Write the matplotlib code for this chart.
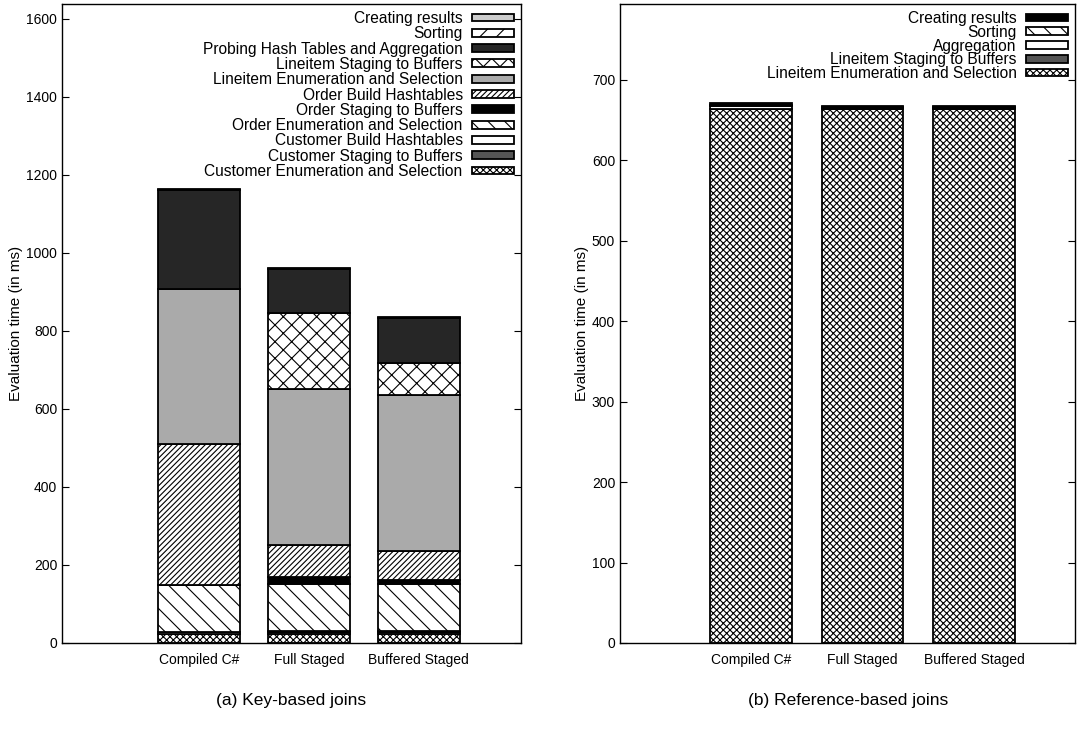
import matplotlib
matplotlib.use("Agg")
import matplotlib.pyplot as plt
import numpy as np

plt.rcParams['font.family'] = ['Liberation Sans', 'DejaVu Sans']
plt.rcParams['hatch.linewidth'] = 0.8

systems = ["Compiled C#", "Full Staged", "Buffered Staged"]

# (a) key-based joins, stacked bottom -> top
key_parts = [
    "Customer Enumeration and Selection",
    "Customer Staging to Buffers",
    "Customer Build Hashtables",
    "Order Enumeration and Selection",
    "Order Staging to Buffers",
    "Order Build Hashtables",
    "Lineitem Enumeration and Selection",
    "Lineitem Staging to Buffers",
    "Probing Hash Tables and Aggregation",
    "Sorting",
    "Creating results",
]
key_values = [
    [22, 22, 22],
    [0, 5, 5],
    [6, 5, 5],
    [120, 118, 118],
    [0, 20, 12],
    [362, 82, 75],
    [398, 398, 398],
    [0, 195, 83],
    [252, 113, 115],
    [0, 0, 0],
    [3, 3, 3],
]
key_colors = ["white", "#555555", "white", "white", "black", "white",
              "#aaaaaa", "white", "#262626", "white", "#cccccc"]
key_hatches = ["xxxxx", None, None, "\\\\", None, "//////",
               None, "xx", None, "//", None]

# (b) reference-based joins
ref_parts = [
    "Lineitem Enumeration and Selection",
    "Lineitem Staging to Buffers",
    "Aggregation",
    "Sorting",
    "Creating results",
]
ref_values = [
    [664, 663, 663],
    [0, 1, 1],
    [3, 1, 1],
    [1, 0.5, 0.5],
    [3, 2, 2],
]
ref_colors = ["white", "#555555", "white", "white", "black"]
ref_hatches = ["xxxxx", None, None, "\\\\", None]


def stacked(ax, parts, values, colors, hatches, width, spacing):
    x = np.arange(len(systems))
    bottom = np.zeros(len(systems))
    handles = []
    for name, vals, c, h in zip(parts, values, colors, hatches):
        bars = ax.bar(x, vals, width, bottom=bottom, color=c, hatch=h,
                      edgecolor="black", linewidth=1.3, label=name)
        handles.append(bars)
        bottom += np.array(vals)
    ax.set_xticks(x)
    ax.set_xticklabels(systems, fontsize=10)
    ax.tick_params(axis="x", length=0, pad=7)
    ax.tick_params(axis="y", direction="in", right=True, length=5, labelsize=10)
    ax.set_ylabel("Evaluation time (in ms)", fontsize=11, labelpad=2)
    ax.legend(handles[::-1], parts[::-1], loc="upper right", frameon=False,
              markerfirst=False, fontsize=11.2, labelspacing=spacing,
              handlelength=2.7, handleheight=0.4, handletextpad=0.6,
              borderaxespad=0.3, borderpad=0.15)
    for s in ax.spines.values():
        s.set_linewidth(1.0)


fig = plt.figure(figsize=(10.86, 7.31), dpi=100)
ax1 = fig.add_axes([62 / 1086, 88 / 731, 459 / 1086, 639 / 731])
ax2 = fig.add_axes([620 / 1086, 88 / 731, 455 / 1086, 639 / 731])

stacked(ax1, key_parts, key_values, key_colors, key_hatches, 0.745, 0.02)
ax1.set_xlim(-1.245, 2.93)
ax1.set_ylim(0, 1638)
ax1.set_yticks(range(0, 1601, 200))

stacked(ax2, ref_parts, ref_values, ref_colors, ref_hatches, 0.735, -0.08)
ax2.set_xlim(-1.175, 2.906)
ax2.set_ylim(0, 794)
ax2.set_yticks(range(0, 701, 100))

fig.text(291 / 1086, 1 - 700 / 731, "(a) Key-based joins", ha="center",
         va="center", fontsize=12.5)
fig.text(848 / 1086, 1 - 700 / 731, "(b) Reference-based joins", ha="center",
         va="center", fontsize=12.5)

fig.savefig("out.png", dpi=100)
